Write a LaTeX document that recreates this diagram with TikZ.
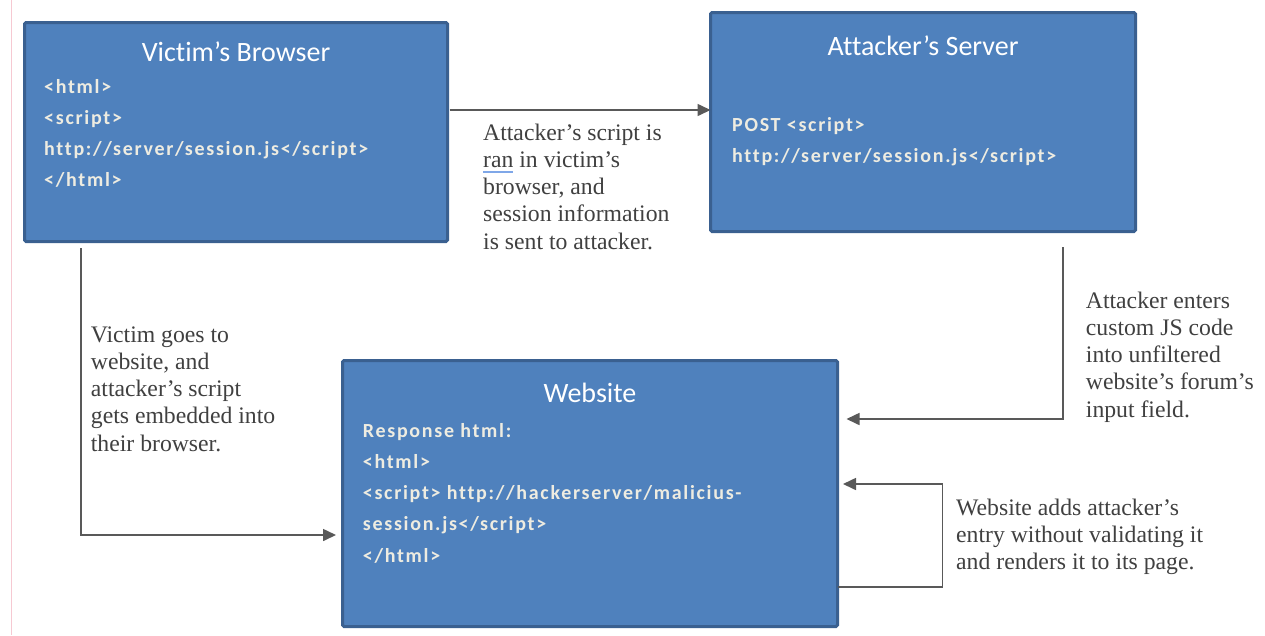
\documentclass[tikz,border=0pt]{standalone}
\usepackage{fontspec}
\setmainfont{Liberation Serif}
\newfontfamily\boxfont[Ligatures=NoCommon]{Carlito}
\newfontfamily\codefont[LetterSpace=8.5,Ligatures=NoCommon]{Carlito}
\usetikzlibrary{arrows.meta,calc}

\definecolor{boxfill}{HTML}{4F81BD}
\definecolor{boxline}{HTML}{3A6090}
\definecolor{codetext}{HTML}{EEECE1}
\definecolor{labeltext}{HTML}{404040}
\definecolor{connline}{HTML}{595959}
\definecolor{marginpink}{HTML}{F6C9D2}
\definecolor{spell}{HTML}{7FA7E8}

% left-aligned lines with a fixed baseline distance; the node's base is the first line
\newcommand\linestack[2]{\vtop{\baselineskip=#1\relax\lineskiplimit=-50pt\let\\\cr\halign{##\hfil\cr#2\crcr}}}
% word with a spell-checker underline
\newcommand\spellmark[1]{\setbox0\hbox{#1}\rlap{\textcolor{spell}{\rule[-5.3pt]{\wd0}{1.3pt}}}#1}

\tikzset{
  panel/.style={draw=boxline, line width=3pt, fill=boxfill, rounded corners=1.5pt,
                inner sep=0pt, outer sep=0pt},
  paneltitle/.style={text=white, font=\boxfont\fontsize{28}{34}\selectfont,
                inner sep=0pt, anchor=base},
  code/.style={text=codetext, font=\codefont\bfseries\fontsize{20}{31.3}\selectfont,
                inner sep=0pt, anchor=base west},
  note/.style={text=labeltext, font=\fontsize{23.7}{27.3}\selectfont,
                inner sep=0pt, anchor=base west},
  conn/.style={draw=connline, line width=1.6pt, -{Triangle[length=13pt,width=12pt]}},
}

\begin{document}
\begin{tikzpicture}[x=1pt,y=-1pt]
\path[fill=white, use as bounding box] (0,0) rectangle (1265,635);

% margin rule
\draw[marginpink, line width=1pt] (11,0) -- (11,635);

% panels
\node[panel, minimum width=423pt, minimum height=219pt] (vb) at (236,132) {};
\node[panel, minimum width=425pt, minimum height=219pt] (as) at (923,122) {};
\node[panel, minimum width=495pt, minimum height=266pt] (ws) at (590,493.5) {};

% panel titles
\node[paneltitle] (vbtitle) at (236,61) {Victim’s Browser};
\node[paneltitle] (astitle) at (923,55) {Attacker’s Server};
\node[paneltitle] (wstitle) at (590,402) {Website};

% panel contents
\node[code] (vbcode) at (44,93)
  {\linestack{31.3pt}{<html>\\<script>\\http://server/session.js</script>\\</html>}};
\node[code] (ascode) at (732,131)
  {\linestack{31.3pt}{POST <script>\\http://server/session.js</script>}};
\node[code] (wscode) at (362.7,437)
  {\linestack{31.3pt}{Response html:\\<html>\\<script> http://hackerserver/malicius-\\session.js</script>\\</html>}};

% connectors
\draw[conn] ($(vb.east)+(2,-22)$) coordinate (s1) -- (s1 -| as.west);
\draw[conn] ($(vb.south west)+(56.5,6.5)$) |- ($(ws.west)+(-6.5,41.5)$);
\draw[conn] ($(as.south)+(140,15.5)$) |- ($(ws.east)+(9,-74.5)$);
\draw[conn] ($(ws.east)+(0,93.5)$) -- ++(105,0) |- ($(ws.east)+(5.5,-9.5)$);

% notes
\node[note] (n1) at (483,140)
  {\linestack{27.3pt}{Attacker’s script is\\\spellmark{ran} in victim’s\\browser, and\\session information\\is sent to attacker.}};
\node[note] (n2) at (90.7,342)
  {\linestack{27.3pt}{Victim goes to\\website, and\\attacker’s script\\gets embedded into\\their browser.}};
\node[note] (n3) at (1085.7,308)
  {\linestack{27.3pt}{Attacker enters\\custom JS code\\into unfiltered\\website’s forum’s\\input field.}};
\node[note] (n4) at (956,515)
  {\linestack{27.3pt}{Website adds attacker’s\\entry without validating it\\and renders it to its page.}};
\end{tikzpicture}
\end{document}
